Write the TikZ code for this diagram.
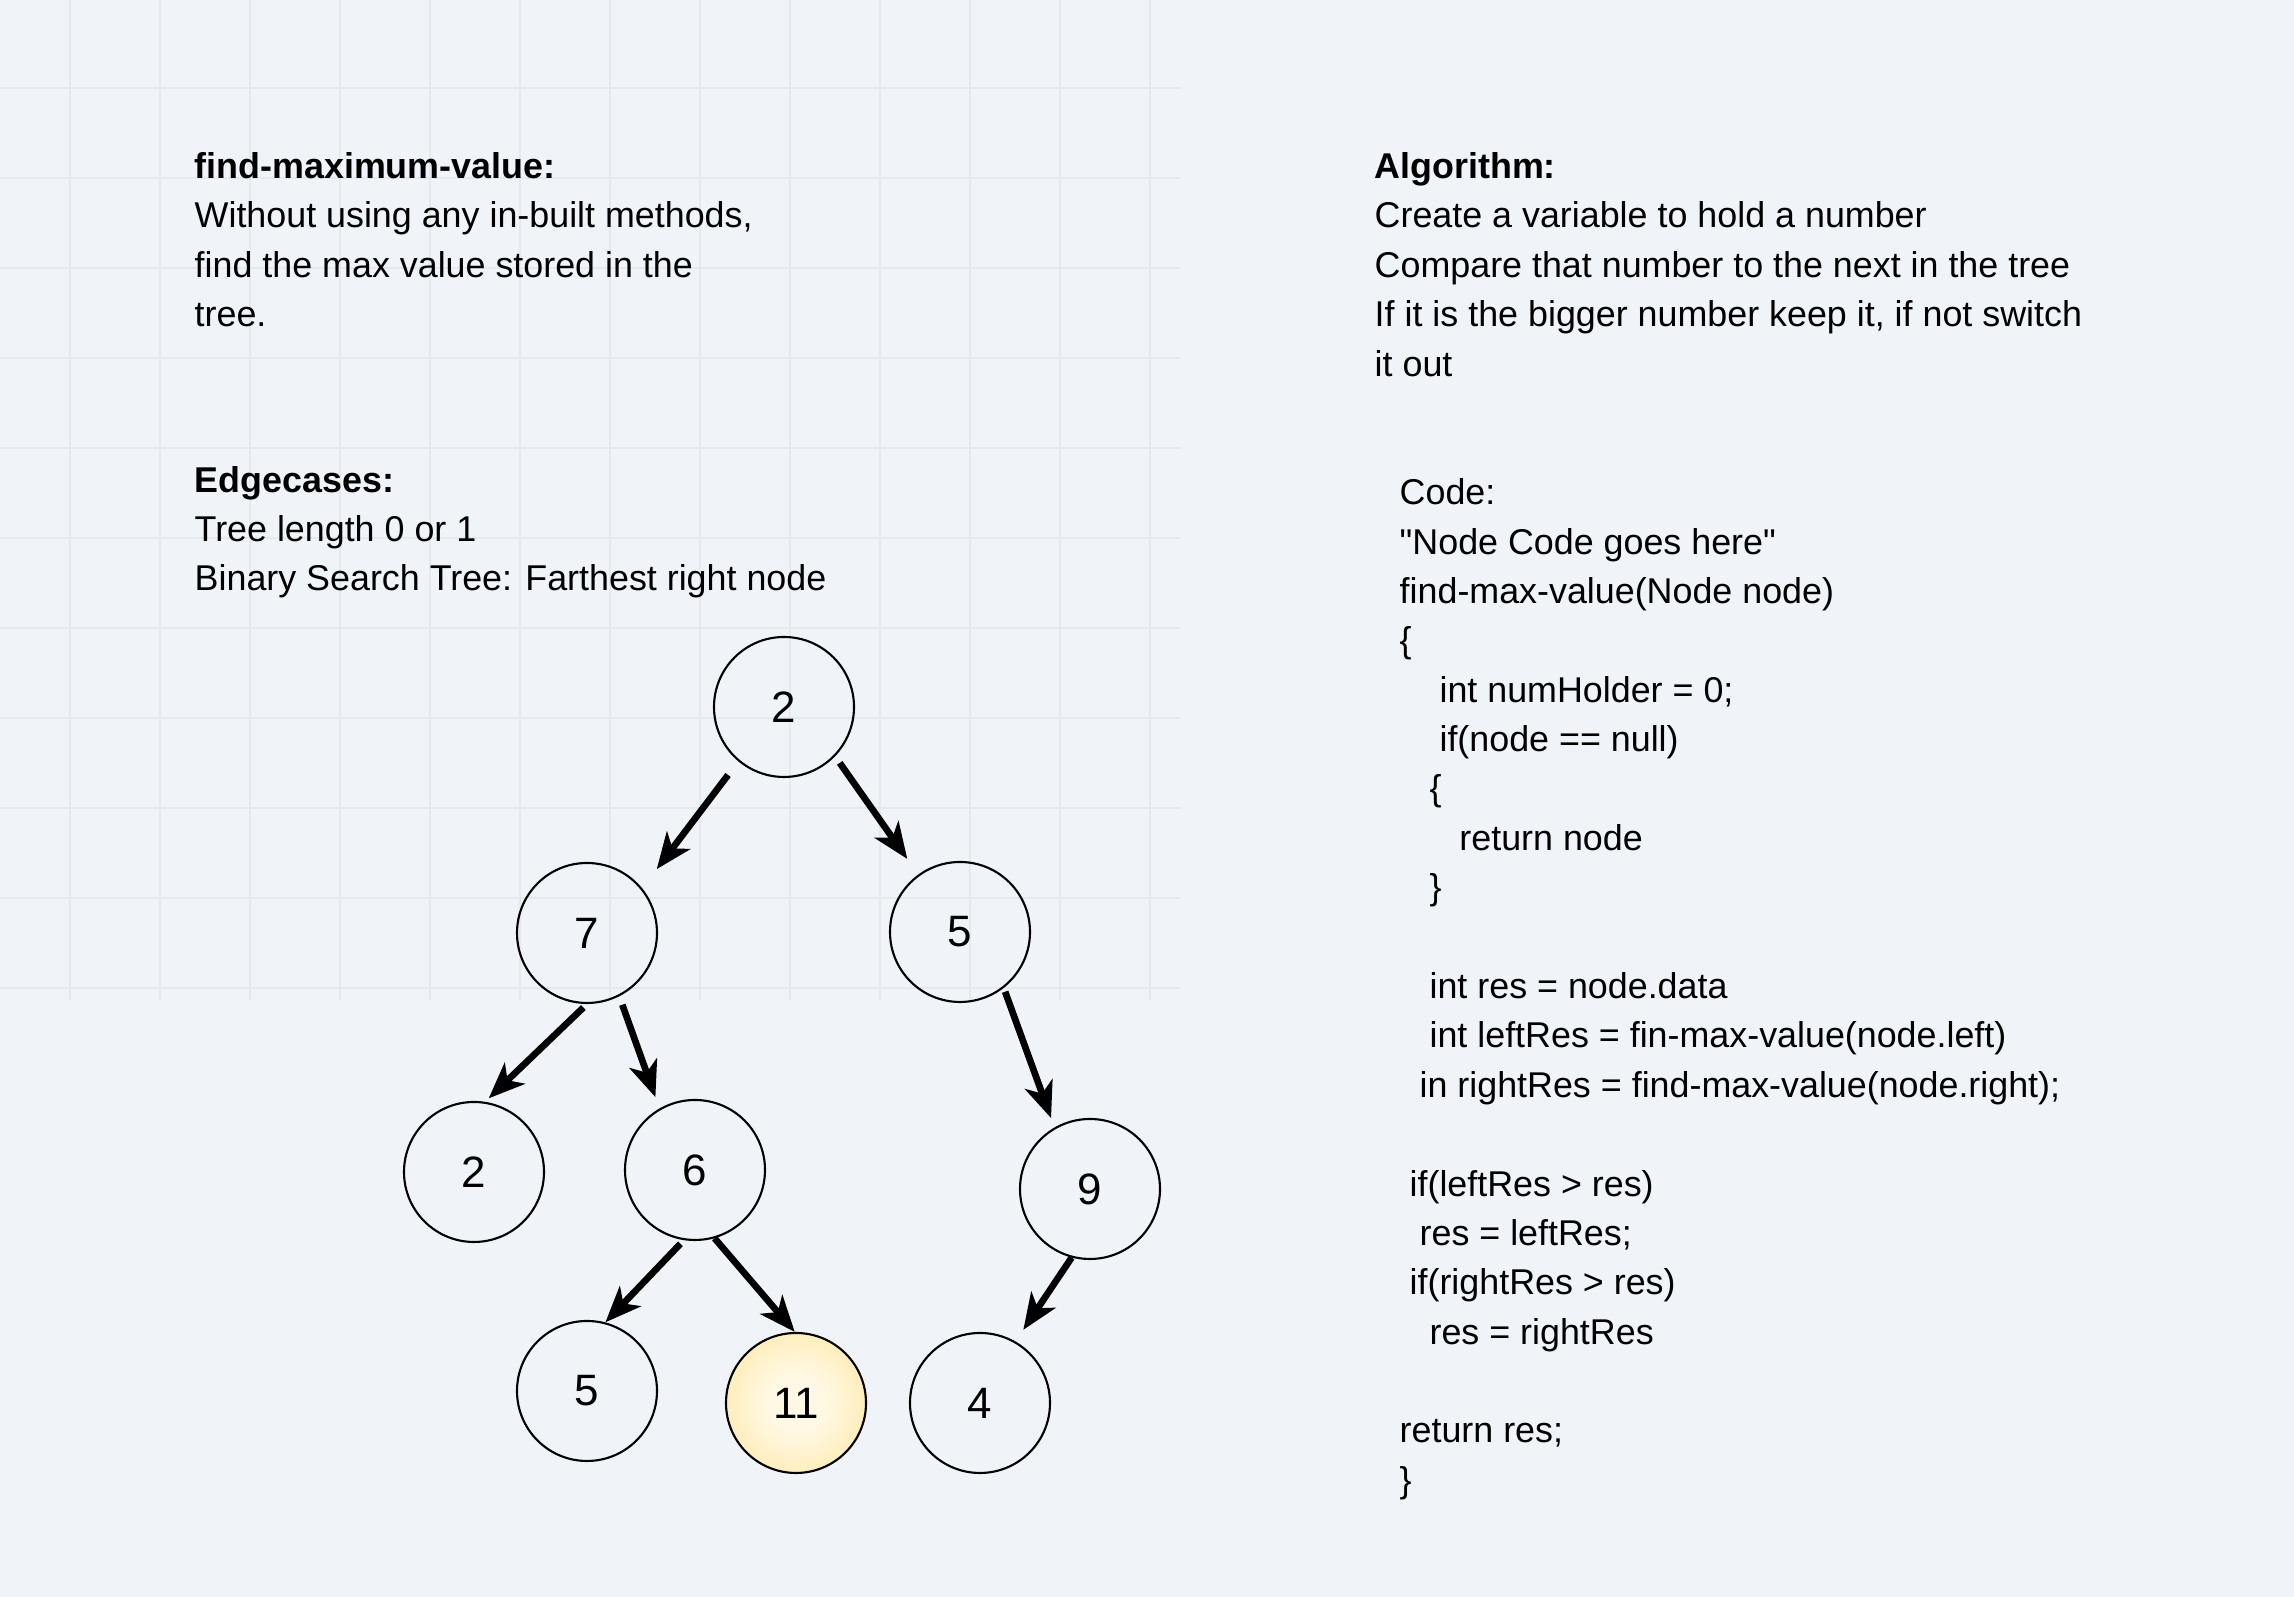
\documentclass[tikz,border=0pt]{standalone}
\usepackage{fontspec}
\setmainfont{Liberation Sans}[Ligatures=TeXOff]
\usetikzlibrary{arrows.meta}
\definecolor{canvas}{HTML}{F0F4F8}
\definecolor{gridline}{HTML}{E5E9EE}
\definecolor{ink}{HTML}{000000}
\definecolor{glowin}{HTML}{FFF8E4}
\definecolor{glowout}{HTML}{FFDC7A}
\pgfdeclareradialshading{maxglow}{\pgfpoint{0bp}{0bp}}{color(0bp)=(glowin); color(10bp)=(glowin); color(50bp)=(glowout)}
\newcommand{\codepad}[1]{\hspace*{#1\fontdimen2\font}}

\begin{document}
\begin{tikzpicture}[font=\fontsize{10.2}{14.05}\selectfont,>={Stealth[length=3.6mm,width=2.9mm,inset=1mm]}]
\tikzset{treenode/.style={circle,draw=ink,line width=0.6pt,minimum size=1.4cm,inner sep=0pt,font=\fontsize{12.5}{14}\selectfont}, maxnode/.style={shade,shading=maxglow}, link/.style={->,draw=ink,line width=1.9pt}, textblock/.style={anchor=base west,align=left,inner sep=0pt}}
\fill[canvas] (0,0) rectangle (22.94,15.97);
\useasboundingbox (0,0) rectangle (22.94,15.97);
\begin{scope}[shift={(0.7,0.69)}]
\draw[step=0.9,gridline,line width=0.3pt] (-0.7,5.28) grid (11.1,15.28);
\end{scope}
% text blocks, placed at the baseline of their last line
\node[textblock] (task) at (1.94,12.703) {\textbf{find-maximum-value:}\\Without using any in-built methods,\\find the max value stored in the\\tree.};
\node[textblock] (edges) at (1.94,10.062) {\textbf{Edgecases:}\\Tree length 0 or 1\\Binary Search Tree: Farthest right node};
\node[textblock] (algo) at (13.74,12.209) {\textbf{Algorithm:}\\Create a variable to hold a number\\Compare that number to the next in the tree\\If it is the bigger number keep it, if not switch\\it out};
\node[textblock] (code) at (13.99,1.047) {Code:\\"Node Code goes here"\\find-max-value(Node node)\\\{\\\codepad{4}int numHolder = 0;\\\codepad{4}if(node == null)\\\codepad{3}\{\\\codepad{6}return node\\\codepad{3}\}\\ \\\codepad{3}int res = node.data\\\codepad{3}int leftRes = fin-max-value(node.left)\\\codepad{2}in rightRes = find-max-value(node.right);\\ \\\codepad{1}if(leftRes > res)\\\codepad{2}res = leftRes;\\\codepad{1}if(rightRes > res)\\\codepad{3}res = rightRes\\ \\return res;\\\}};
% the tree
\node[treenode] (root) at (7.84,8.90) {2};
\node[treenode] (lft) at (5.87,6.64) {7};
\node[treenode] (rgt) at (9.60,6.65) {5};
\node[treenode] (lftlft) at (4.74,4.25) {2};
\node[treenode] (lftrgt) at (6.95,4.27) {6};
\node[treenode] (rgtrgt) at (10.90,4.08) {9};
\node[treenode] (leafa) at (5.87,2.06) {5};
\node[treenode,maxnode] (leafb) at (7.96,1.94) {11};
\node[treenode] (leafc) at (9.80,1.94) {4};
\draw[link,shorten <=1.7mm,shorten >=2.4mm] (root.230) -- (lft.39);
\draw[link,shorten <=0.8mm,shorten >=1.9mm] (root.-44) -- (rgt.126);
\draw[link,shorten <=0.5mm,shorten >=0.5mm] (lft.-90) -- (lftlft.81);
\draw[link,shorten <=0.9mm,shorten >=1.2mm] (lft.-63) -- (lftrgt.120);
\draw[link,shorten <=0.4mm,shorten >=1mm] (rgt.-52) -- (rgtrgt.120);
\draw[link,shorten <=0.5mm] (lftrgt.-99) -- (leafa.75);
\draw[link] (lftrgt.-74) -- (leafb.91);
\draw[link,shorten >=1.4mm] (rgtrgt.-105) -- (leafc.60);
\end{tikzpicture}
\end{document}
